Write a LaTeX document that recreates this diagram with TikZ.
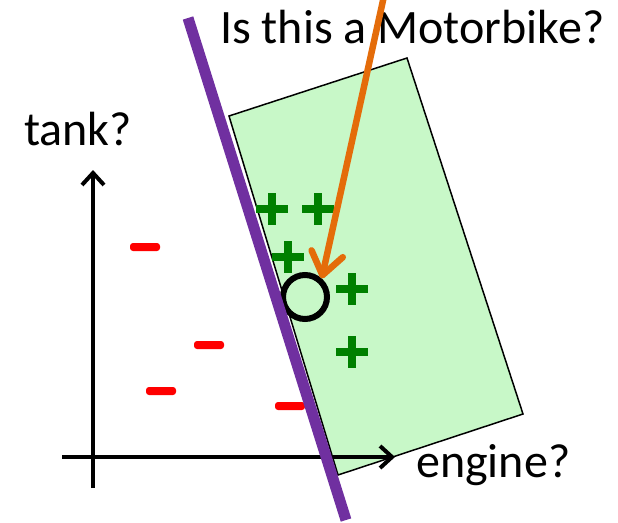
\documentclass[tikz,border=0pt]{standalone}
\usepackage{fontspec}
\setmainfont{Carlito}
\usetikzlibrary{arrows.meta}
\definecolor{sepline}{RGB}{112,48,160}
\definecolor{queryarrow}{RGB}{228,108,10}
\definecolor{posgreen}{RGB}{0,128,0}
\definecolor{regionfill}{RGB}{200,248,200}
\begin{document}
\begin{tikzpicture}[x=1pt, y=-1pt,
  bigtext/.style={font=\fontsize{48}{57}\selectfont, inner sep=0pt},
  posmark/.style={minimum size=32pt, inner sep=0pt,
    path picture={\draw[line width=8pt, posgreen]
      (path picture bounding box.west) -- (path picture bounding box.east)
      (path picture bounding box.north) -- (path picture bounding box.south);}},
  negmark/.style={minimum width=30pt, minimum height=8pt, inner sep=0pt, fill=red, rounded corners=3pt},
  axisline/.style={line width=4pt, -{Straight Barb[length=12pt,width=22pt]}}]
\useasboundingbox (0,0) rectangle (618,522);
% positive region
\coordinate (rTL) at (229,116);
\coordinate (rTR) at (407,58);
\coordinate (rBR) at (523,414);
\coordinate (rBL) at (338,475);
\draw[fill=regionfill, line width=1.5pt] (rTL) -- (rTR) -- (rBR) -- (rBL) -- cycle;
% training examples
\node[posmark] (p1) at (272,209) {};
\node[posmark] (p2) at (318,209) {};
\node[posmark] (p3) at (288,257) {};
\node[posmark] (p4) at (352,289) {};
\node[posmark] (p5) at (352,352) {};
\node[negmark] (n1) at (145,247) {};
\node[negmark] (n2) at (209,345) {};
\node[negmark] (n3) at (161,391) {};
\node[negmark] (n4) at (290,406) {};
% query point
\node[circle, draw, line width=6pt, minimum size=44pt, inner sep=0pt] (query) at (305,297) {};
% axes
\coordinate (xstart) at (62,457);
\coordinate (xend) at (395,457);
\coordinate (ystart) at (93,488);
\coordinate (yend) at (93,170);
\draw[axisline] (xstart) -- (xend);
\draw[axisline] (ystart) -- (yend);
\node[bigtext, anchor=base west] (ylabel) at (24,145) {tank?};
\node[bigtext, anchor=base west] (xlabel) at (416,477) {engine?};
% separator
\coordinate (sepA) at (188,18);
\coordinate (sepB) at (346,520);
\draw[sepline, line width=11pt] (sepA) -- (sepB);
% question
\node[bigtext, anchor=base west] (question) at (220,43) {Is this a Motorbike?};
\coordinate (qstart) at (384,-4);
\draw[queryarrow, line width=6.5pt, -{Straight Barb[round,length=22pt,width=32pt]}] (qstart) -- (query.48);
\end{tikzpicture}
\end{document}
